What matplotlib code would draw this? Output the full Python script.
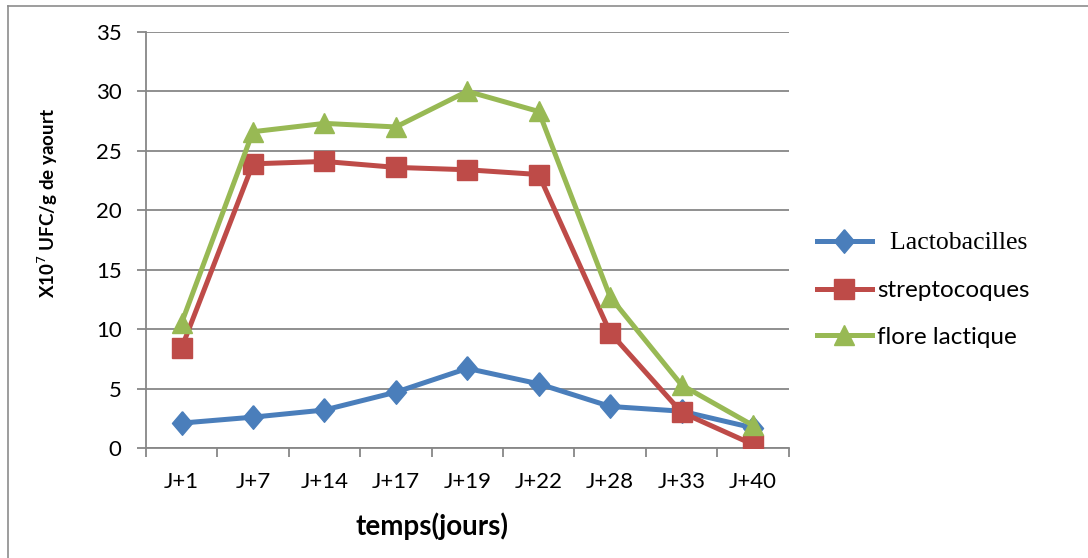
import numpy as np
import matplotlib.pyplot as plt

# Data
jours = ["J+1", "J+7", "J+14", "J+17", "J+19", "J+22", "J+28", "J+33", "J+40"]
lactobacilles = [2.1, 2.6, 3.2, 4.7, 6.7, 5.4, 3.5, 3.1, 1.7]
streptocoques = [8.4, 23.9, 24.1, 23.6, 23.4, 23.0, 9.7, 3.0, 0.3]
flore_lactique = [10.5, 26.6, 27.3, 27.0, 30.0, 28.3, 12.7, 5.3, 1.9]

plt.rcParams["font.family"] = ["Lato", "DejaVu Sans"]

fig = plt.figure(figsize=(10.88, 5.58), dpi=100)
ax = fig.add_axes([0.134, 0.197, 0.591, 0.746])

# outer chart frame (only top and left edges visible)
fig.add_artist(plt.Line2D([0.007, 0.007], [0.0, 0.989], color="#8c8c8c", lw=1.2,
                          transform=fig.transFigure))
fig.add_artist(plt.Line2D([0.007, 1.0], [0.989, 0.989], color="#8c8c8c", lw=1.2,
                          transform=fig.transFigure))

x = np.arange(len(jours))
grey = "#878787"

# Excel style diamond, a little narrower than tall
diamond = [(0, 1), (0.85, 0), (0, -1), (-0.85, 0), (0, 1)]

ax.plot(x, lactobacilles, color="#4A7EBB", lw=3.6, marker=diamond, markersize=17,
        label="  Lactobacilles", zorder=3)
ax.plot(x, streptocoques, color="#BE4B48", lw=3.6, marker="s", markersize=14,
        label="streptocoques", zorder=3)
ax.plot(x, flore_lactique, color="#98B954", lw=3.6, marker="^", markersize=15,
        label="flore lactique", zorder=3)

ax.set_xlim(-0.5, len(jours) - 0.5)
ax.set_ylim(0, 35)
ax.set_yticks(np.arange(0, 36, 5))
ax.set_xticks(x)
ax.set_xticklabels(jours)
ax.set_xticks(np.arange(-0.5, len(jours), 1), minor=True)

ax.grid(axis="y", color=grey, lw=1.3)
ax.set_axisbelow(True)
for side in ["top", "right"]:
    ax.spines[side].set_visible(False)
for side in ["left", "bottom"]:
    ax.spines[side].set_color(grey)
    ax.spines[side].set_linewidth(1.3)

ax.tick_params(axis="y", length=6.5, width=1.3, color=grey, labelsize=16, pad=11)
ax.tick_params(axis="x", which="major", length=0, labelsize=16, pad=17)
ax.tick_params(axis="x", which="minor", length=6.5, width=1.3, color=grey)

fig.text(0.397, 0.057, "temps(jours)", fontsize=20, fontweight="bold",
         ha="center", va="center")
fig.text(0.044, 0.636, r"X10$^{7}$ UFC/g de yaourt", rotation=90, fontsize=13.5,
         fontweight="bold", ha="center", va="center")

leg = ax.legend(loc="center left", bbox_to_anchor=(0.742, 0.48),
                bbox_transform=fig.transFigure, frameon=False, fontsize=17.5,
                labelspacing=1.06, handlelength=2.26, handletextpad=0.2,
                borderaxespad=0)
leg.get_texts()[0].set_fontfamily("Liberation Serif")
leg.get_texts()[0].set_fontsize(18.5)

fig.savefig("out.png", dpi=100)
